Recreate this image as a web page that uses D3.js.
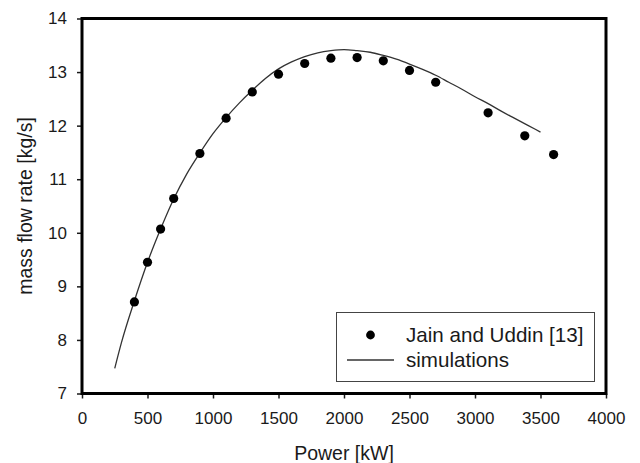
<!DOCTYPE html>
<html>
<head>
<meta charset="utf-8">
<script src="https://cdn.jsdelivr.net/npm/d3@7"></script>
<style>
  html, body { margin: 0; padding: 0; background: #fff; }
  svg { display: block; font-family: "Liberation Sans", Arial, Helvetica, sans-serif; }
</style>
</head>
<body>
<svg id="chart" width="640" height="463"></svg>
<script>
// Measured mass flow rate (Jain and Uddin [13])
const measPower = [400, 500, 600, 700, 900, 1100, 1300, 1500, 1700, 1900, 2100, 2300, 2500, 2700, 3100, 3380, 3600];
const measFlow  = [8.71, 9.45, 10.07, 10.64, 11.48, 12.14, 12.63, 12.96, 13.16, 13.26, 13.27, 13.21, 13.03, 12.81, 12.24, 11.81, 11.46];

// Simulated curve
const simPower = [250, 300, 400, 500, 600, 700, 800, 900, 1000, 1100, 1200, 1300, 1400, 1500, 1600, 1700, 1800, 1900, 2000, 2100, 2200, 2300, 2400, 2500, 2600, 2700, 2800, 2900, 3000, 3100, 3200, 3300, 3400, 3500];
const simFlow  = [7.47, 7.94, 8.73, 9.45, 10.07, 10.63, 11.10, 11.49, 11.85, 12.15, 12.42, 12.66, 12.88, 13.06, 13.19, 13.29, 13.36, 13.40, 13.42, 13.40, 13.37, 13.31, 13.24, 13.15, 13.05, 12.94, 12.81, 12.68, 12.54, 12.41, 12.27, 12.14, 12.01, 11.88];

const xTicks = [0, 500, 1000, 1500, 2000, 2500, 3000, 3500, 4000];
const yTicks = [7, 8, 9, 10, 11, 12, 13, 14];

const svg = d3.select("#chart");
const plotL = 82, plotR = 606, plotT = 18.5, plotB = 393.5;

const x = d3.scaleLinear().domain([0, 4000]).range([plotL, plotR]);
const y = d3.scaleLinear().domain([7, 14]).range([plotB, plotT]);

const ink = "#1a1a1a";

// Axes with outward ticks
const gx = svg.append("g")
  .attr("transform", `translate(0,${plotB})`)
  .call(d3.axisBottom(x).tickValues(xTicks).tickSize(5).tickPadding(13).tickFormat(d3.format("d")));
const gy = svg.append("g")
  .attr("transform", `translate(${plotL},0)`)
  .call(d3.axisLeft(y).tickValues(yTicks).tickSize(5).tickPadding(10).tickFormat(d3.format("d")));

[gx, gy].forEach(g => {
  g.select(".domain").remove();
  g.selectAll(".tick line").attr("stroke", ink).attr("stroke-width", 1.5);
  g.selectAll(".tick text").attr("fill", ink).style("font-size", "17px")
    .style("font-family", "'Liberation Sans', Arial, sans-serif");
});

// Simulation line
const line = d3.line()
  .x((d, i) => x(simPower[i]))
  .y(d => y(d))
  .curve(d3.curveMonotoneX);

svg.append("path")
  .datum(simFlow)
  .attr("d", line)
  .attr("fill", "none")
  .attr("stroke", "#333")
  .attr("stroke-width", 1.3);

// Measured points
svg.append("g").selectAll("circle")
  .data(measFlow)
  .join("circle")
  .attr("cx", (d, i) => x(measPower[i]))
  .attr("cy", d => y(d))
  .attr("r", 4.6)
  .attr("fill", "#000");

// Plot frame
svg.append("rect")
  .attr("x", plotL).attr("y", plotT)
  .attr("width", plotR - plotL).attr("height", plotB - plotT)
  .attr("fill", "none")
  .attr("stroke", "#000")
  .attr("stroke-width", 3);

// Axis titles
svg.append("text")
  .attr("x", (plotL + plotR) / 2).attr("y", 460)
  .attr("text-anchor", "middle")
  .attr("fill", ink)
  .style("font-size", "19.5px")
  .text("Power [kW]");

svg.append("text")
  .attr("transform", `translate(32,${(plotT + plotB) / 2}) rotate(-90)`)
  .attr("text-anchor", "middle")
  .attr("fill", ink)
  .style("font-size", "19.5px")
  .text("mass flow rate [kg/s]");

// Legend
const legend = svg.append("g");
legend.append("rect")
  .attr("x", 336.5).attr("y", 312.5)
  .attr("width", 258).attr("height", 69)
  .attr("fill", "#fff")
  .attr("stroke", "#444")
  .attr("stroke-width", 1);
legend.append("circle")
  .attr("cx", 370.5).attr("cy", 335).attr("r", 4.4).attr("fill", "#000");
legend.append("line")
  .attr("x1", 347).attr("x2", 394).attr("y1", 360).attr("y2", 360)
  .attr("stroke", "#333").attr("stroke-width", 1.3);
legend.append("text")
  .attr("x", 406).attr("y", 342)
  .attr("fill", ink).style("font-size", "20.6px")
  .text("Jain and Uddin [13]");
legend.append("text")
  .attr("x", 406).attr("y", 367)
  .attr("fill", ink).style("font-size", "20.6px")
  .text("simulations");
</script>
</body>
</html>
